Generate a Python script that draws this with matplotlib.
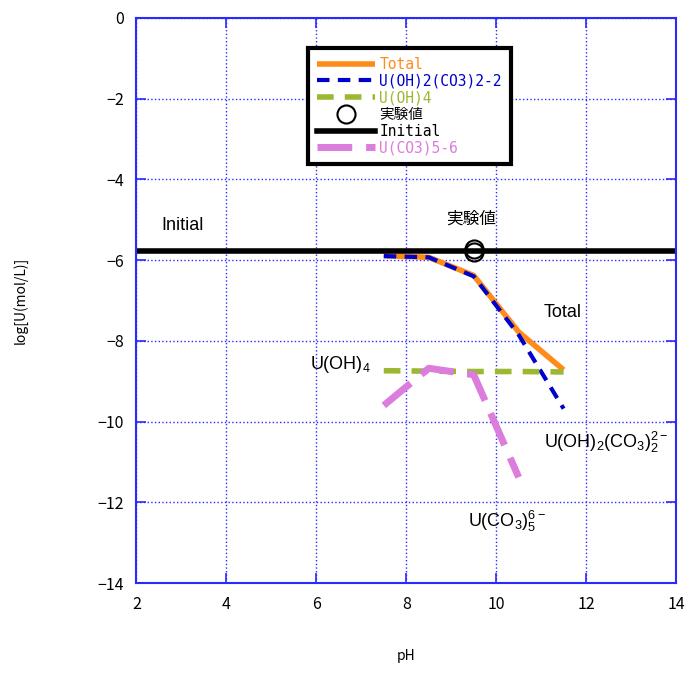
import numpy as np
import matplotlib
matplotlib.use('Agg')
import matplotlib.pyplot as plt

# --- fonts: gothic-looking for ticks / legend, arial-like for annotations
plt.rcParams['font.family'] = ['Noto Sans CJK JP', 'DejaVu Sans']
plt.rcParams['mathtext.fontset'] = 'custom'
plt.rcParams['mathtext.rm'] = 'Liberation Sans'
plt.rcParams['mathtext.default'] = 'regular'

# --- data
ph = [7.5, 8.5, 9.5, 10.5, 11.5]
total = [-5.89, -5.93, -6.38, -7.78, -8.72]
uoh2co32 = [-5.90, -5.93, -6.40, -7.85, -9.68]
uoh4 = [-8.74, -8.75, -8.76, -8.76, -8.77]
ph_co35 = [7.5, 8.5, 9.5, 10.5]
uco35 = [-9.60, -8.68, -8.84, -11.38]
exp_ph = [9.5, 9.5]
exp_val = [-5.73, -5.81]
initial = -5.77

c_total = '#ff8c1a'
c_blue = '#0000cc'
c_green = '#9bb832'
c_pink = '#dc7cdc'
c_grid = '#2a2aff'

fig = plt.figure(figsize=(6.88, 6.81), dpi=100)
ax = fig.add_axes((0.1984, 0.1439, 0.7842, 0.8297))

ax.plot(ph, total, c=c_total, lw=4, label='Total', solid_capstyle='butt')
ax.plot(ph, uoh2co32, c=c_blue, lw=3, ls=(0, (3, 2)), label='U(OH)2(CO3)2-2')
ax.plot(ph, uoh4, c=c_green, lw=4, ls=(0, (3, 2)), label='U(OH)4')
ax.plot(exp_ph, exp_val, 'o', ms=13, mfc='none', mec='k', mew=1.5, label='実験値')
ax.axhline(initial, c='k', lw=4, label='Initial')
ax.plot(ph_co35, uco35, c=c_pink, lw=5, ls=(0, (5, 2)), label='U(CO3)5-6')

ax.set_xlim(2, 14)
ax.set_ylim(-14, 0)
ax.set_xticks(np.arange(2, 15, 2))
ax.set_yticks(np.arange(-14, 1, 2))
ax.grid(True, color=c_grid, ls=':', lw=1)
for s in ax.spines.values():
    s.set_color(c_grid)
    s.set_linewidth(1.5)
ax.tick_params(direction='in', top=True, right=True, length=7, width=1.2,
               color=c_grid, labelsize=11.5, pad=9)

ax.set_xlabel('pH', fontsize=10, labelpad=26)
ax.set_ylabel('log[U(mol/L)]', fontsize=10, labelpad=50)

# --- annotations
txt = dict(fontsize=13, family='Liberation Sans')
ax.text(2.55, -5.25, 'Initial', **txt)
ax.text(9.45, -5.1, '実験値', fontsize=12, ha='center', family=['Noto Sans CJK JP', 'DejaVu Sans'])
ax.text(11.05, -7.4, 'Total', **txt)
ax.text(5.85, -8.7, r'U(OH)$_4$', **txt)
ax.text(11.07, -10.65, r'U(OH)$_2$(CO$_3$)$_2^{2-}$', **txt)
ax.text(9.37, -12.6, r'U(CO$_3$)$_5^{6-}$', **txt)

leg = ax.legend(loc='upper left', bbox_to_anchor=(308 / 688, 1 - 48 / 681),
                bbox_transform=fig.transFigure, handlelength=4,
                prop={'family': ['DejaVu Sans Mono', 'Noto Sans CJK JP'], 'size': 10.5},
                labelspacing=0.12, borderpad=0.6, fancybox=False, framealpha=1,
                handletextpad=0.3, borderaxespad=0)
leg.get_frame().set_edgecolor('k')
leg.get_frame().set_linewidth(3)
for t, col in zip(leg.get_texts(), [c_total, c_blue, c_green, 'k', 'k', c_pink]):
    t.set_color(col)

fig.savefig('out.png', dpi=100)
